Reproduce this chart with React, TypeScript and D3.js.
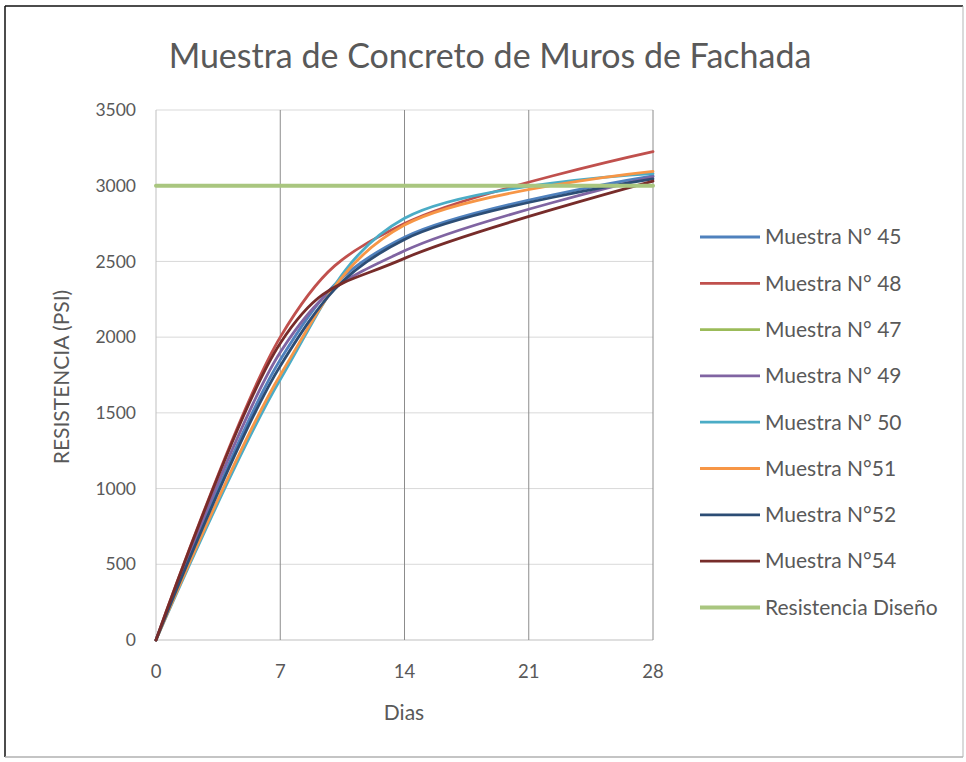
import React from "react";
import * as d3 from "d3";

// Edad de ensayo (días) y resistencia a compresión (PSI) por muestra
const dias = [0, 7, 14, 28];
const muestra45 = [0, 1850, 2660, 3065];
const muestra48 = [0, 2000, 2750, 3225];
const muestra47: number[] = [];
const muestra49 = [0, 1900, 2570, 3060];
const muestra50 = [0, 1720, 2785, 3080];
const muestra51 = [0, 1750, 2740, 3095];
const muestra52 = [0, 1810, 2645, 3045];
const muestra54 = [0, 1960, 2520, 3030];
const resistenciaDiseno = [3000, 3000, 3000, 3000];

const xTicks = [0, 7, 14, 21, 28];
const yTicks = [0, 500, 1000, 1500, 2000, 2500, 3000, 3500];

const series = [
  { name: "Muestra N° 45", values: muestra45, color: "#4F81BD", width: 2.8 },
  { name: "Muestra N° 48", values: muestra48, color: "#C0504D", width: 2.8 },
  { name: "Muestra N° 47", values: muestra47, color: "#9BBB59", width: 2.8 },
  { name: "Muestra N° 49", values: muestra49, color: "#8064A2", width: 2.8 },
  { name: "Muestra N° 50", values: muestra50, color: "#4BACC6", width: 2.8 },
  { name: "Muestra N°51", values: muestra51, color: "#F79646", width: 2.8 },
  { name: "Muestra N°52", values: muestra52, color: "#2C4D75", width: 2.8 },
  { name: "Muestra N°54", values: muestra54, color: "#772C2A", width: 2.8 },
  { name: "Resistencia Diseño", values: resistenciaDiseno, color: "#A9C67F", width: 4 },
];

const W = 966;
const H = 762;
const plot = { left: 156, right: 653, top: 110, bottom: 640 };
const font = "Lato, 'Open Sans', sans-serif";
const textColor = "#595959";

export default function App() {
  const x = d3.scaleLinear().domain([0, 28]).range([plot.left, plot.right]);
  const y = d3.scaleLinear().domain([0, 3500]).range([plot.bottom, plot.top]);

  const line = d3
    .line<[number, number]>()
    .x((d) => x(d[0]))
    .y((d) => y(d[1]))
    .curve(d3.curveCardinal.tension(0));

  const legendX = 700;
  const legendY0 = 237;
  const legendStep = 46.3;

  return (
    <svg
      width={W}
      height={H}
      style={{ position: "absolute", left: 0, top: 0, background: "#fff" }}
    >
      <rect x={0} y={0} width={W} height={H} fill="#fff" />
      {/* marco */}
      <line x1={5} y1={6} x2={963} y2={6} stroke="#111" strokeWidth={1.5} />
      <line x1={5} y1={6} x2={5} y2={757} stroke="#111" strokeWidth={1.5} />
      <line x1={963} y1={6} x2={963} y2={757} stroke="#b5b5b5" strokeWidth={1} />
      <line x1={5} y1={757} x2={963} y2={757} stroke="#b0b0b0" strokeWidth={1.5} />

      {/* título */}
      <text
        x={490}
        y={68}
        textAnchor="middle"
        fontFamily={font}
        fontSize={34}
        fill={textColor}
      >
        Muestra de Concreto de Muros de Fachada
      </text>

      {/* cuadrícula horizontal */}
      {yTicks.map((t) => (
        <line
          key={"h" + t}
          x1={plot.left}
          x2={plot.right}
          y1={y(t)}
          y2={y(t)}
          stroke={t === 0 ? "#bfbfbf" : "#d9d9d9"}
          strokeWidth={1}
        />
      ))}
      {/* cuadrícula vertical */}
      {xTicks.map((t) => (
        <line
          key={"v" + t}
          x1={x(t)}
          x2={x(t)}
          y1={plot.top}
          y2={plot.bottom}
          stroke={t === 0 ? "#bfbfbf" : "#8c8c8c"}
          strokeWidth={1}
        />
      ))}

      {/* etiquetas de ejes */}
      {yTicks.map((t) => (
        <text
          key={"yl" + t}
          x={136}
          y={y(t)}
          dy="0.35em"
          textAnchor="end"
          fontFamily={font}
          fontSize={17.5}
          fill={textColor}
        >
          {t}
        </text>
      ))}
      {xTicks.map((t) => (
        <text
          key={"xl" + t}
          x={x(t)}
          y={672}
          dy="0.35em"
          textAnchor="middle"
          fontFamily={font}
          fontSize={18.5}
          fill={textColor}
        >
          {t}
        </text>
      ))}
      <text
        x={404}
        y={713}
        dy="0.35em"
        textAnchor="middle"
        fontFamily={font}
        fontSize={21}
        fill={textColor}
      >
        Dias
      </text>
      <text
        transform={`translate(62, ${(plot.top + plot.bottom) / 2 + 2}) rotate(-90)`}
        dy="0.35em"
        textAnchor="middle"
        fontFamily={font}
        fontSize={21}
        fill={textColor}
      >
        RESISTENCIA (PSI)
      </text>

      {/* series */}
      {series.map((s) =>
        s.values.length ? (
          <path
            key={s.name}
            d={line(s.values.map((v, i) => [dias[i], v] as [number, number])) || ""}
            fill="none"
            stroke={s.color}
            strokeWidth={s.width}
            strokeLinecap="round"
          />
        ) : null
      )}

      {/* leyenda */}
      {series.map((s, i) => {
        const ly = legendY0 + i * legendStep;
        return (
          <g key={"lg" + s.name}>
            <line
              x1={legendX}
              x2={legendX + 60}
              y1={ly}
              y2={ly}
              stroke={s.color}
              strokeWidth={s.width}
            />
            <text
              x={legendX + 65}
              y={ly}
              dy="0.35em"
              fontFamily={font}
              fontSize={21}
              fill={textColor}
            >
              {s.name}
            </text>
          </g>
        );
      })}
    </svg>
  );
}
